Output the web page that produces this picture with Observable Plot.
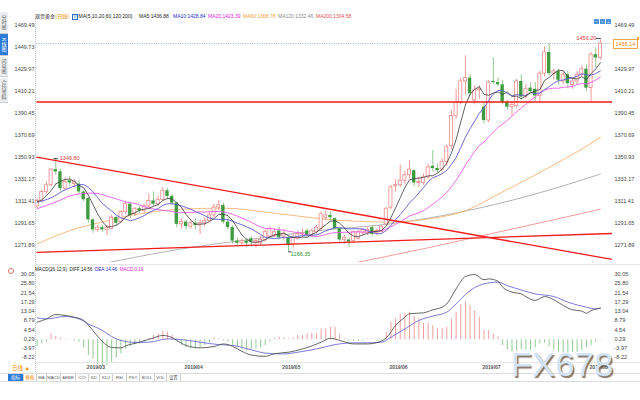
<!DOCTYPE html>
<html><head><meta charset="utf-8">
<script src="https://cdn.jsdelivr.net/npm/d3@7"></script>
<script src="https://cdn.jsdelivr.net/npm/@observablehq/plot@0.6"></script>
<style>
html,body{margin:0;padding:0;background:#fff;}
body{width:640px;height:400px;position:relative;overflow:hidden;font-family:"Liberation Sans","Noto Sans CJK SC",sans-serif;}
.a{position:absolute;white-space:nowrap;line-height:1;}
.t{font-size:5px;}
.tab{position:absolute;left:0;width:8px;writing-mode:vertical-rl;font-size:5px;display:flex;align-items:center;justify-content:center;background:#eceef1;color:#666;border-bottom:1px solid #ccc;box-sizing:border-box;font-family:"Noto Sans CJK SC",sans-serif;}
.bt{position:absolute;top:374px;height:7px;font-size:4.2px;line-height:7px;color:#555;text-align:center;white-space:nowrap;border-right:1px solid #d0d0d0;box-sizing:border-box;font-family:"Liberation Sans","Noto Sans CJK SC",sans-serif;}
.row{position:absolute;display:flex;gap:2.5px;white-space:nowrap;line-height:1;font-size:4.6px;}
</style></head><body>
<div id="main" class="a" style="left:0;top:0"></div>
<div id="macd" class="a" style="left:0;top:262px"></div>
<div id="ov"></div>
<script>
// ---------- data ----------
const open  = [1307,1312,1320,1326,1340,1338,1323,1330,1327,1327,1320,1314,1295,1286,1288,1286,1287,1297,1293,1302,1309,1300,1305,1303,1307,1312,1309,1313,1321,1316,1310,1291,1293,1289,1292,1290,1292,1294,1299,1306,1308,1293,1288,1276,1274,1276,1278,1274,1274,1277,1280,1281,1285,1280,1279,1273,1279,1282,1285,1281,1284,1287,1297,1299,1296,1287,1277,1277,1276,1278,1283,1283,1288,1283,1284,1291,1306,1325,1326,1330,1335,1339,1328,1328,1333,1343,1341,1340,1347,1361,1388,1400,1419,1422,1402,1411,1396,1384,1419,1418,1416,1400,1396,1397,1419,1405,1413,1412,1406,1426,1445,1426,1428,1419,1425,1416,1419,1425,1430,1413,1443,1440];
const high  = [1314,1322,1329,1341,1349.8,1340,1333,1334,1331,1330,1321,1315,1296,1290,1290,1290,1299,1298,1303,1311,1310,1306,1307,1309,1318,1320,1316,1324,1323,1318,1311,1296,1295,1294,1296,1295,1297,1302,1309,1312,1310,1296,1290,1279,1278,1278,1280,1278,1280,1286,1289,1287,1288,1286,1280,1282,1285,1287,1287,1287,1290,1302,1303,1302,1297,1288,1281,1279,1285,1286,1287,1288,1290,1287,1290,1306,1326,1331,1344,1338,1348,1340,1333,1336,1345,1357,1345,1350,1362,1393,1412,1422,1442,1425,1415,1415,1400,1420,1440,1422,1420,1402,1401,1421,1425,1416,1418,1418,1428,1450,1453,1430,1430,1428,1428,1422,1428,1433,1434,1445,1449,1456.2];
const low   = [1305,1310,1318,1325,1335,1320,1321,1325,1324,1318,1311,1292,1283,1284,1284,1281,1286,1289,1292,1300,1296,1298,1301,1301,1304,1307,1307,1312,1313,1308,1288,1287,1286,1287,1286,1282,1289,1293,1297,1303,1291,1286,1273,1272,1271,1270,1272,1270,1272,1275,1278,1279,1277,1276,1266.35,1270,1277,1279,1280,1279,1282,1285,1294,1294,1286,1275,1273,1270,1274,1277,1281,1281,1280,1281,1283,1289,1304,1320,1324,1327,1332,1325,1324,1326,1331,1338,1337,1338,1343,1358,1385,1398,1407,1405,1398,1403,1381,1382,1416,1414,1398,1393,1388,1395,1402,1403,1408,1401,1400,1423,1424,1420,1416,1416,1413,1412,1416,1423,1410,1400.5,1431,1438];
const close = [1312,1320,1326,1340,1338,1323,1329,1328,1329,1320,1313,1295,1286,1288,1286,1288,1297,1292,1302,1309,1299,1305,1303,1307,1312,1309,1313,1321,1316,1310,1291,1293,1289,1292,1290,1292,1294,1299,1306,1308,1293,1288,1276,1274,1276,1274,1275,1276,1277,1284,1287,1284,1279,1282,1272,1279,1282,1283,1281,1285,1288,1300,1299,1297,1287,1277,1279,1275,1284,1284,1286,1286,1282,1285,1289,1305,1324,1326,1330,1335,1340,1328,1329,1333,1342,1341,1339,1347,1360,1388,1400,1419,1422,1408,1411,1412,1384,1418,1418,1416,1400,1396,1398,1419,1405,1412,1410,1406,1426,1445,1426,1428,1420,1425,1417,1419,1425,1430,1413,1443,1440,1453];

const ma5LeadIdx  = [0,1,2,3,4];
const ma5LeadVal  = [1311.4,1313,1316.8,1321.3,1327.2];
const ma10LeadIdx = [0,3,6,9];
const ma10LeadVal = [1310.8,1314.7,1321.9,1326.5];
const ma20LeadIdx = [0,4,8,12,16,19];
const ma20LeadVal = [1305,1311,1317.5,1319,1315,1311.05];
const ma60Idx  = [0,9,14,20,31,40,51,61,75,90,100,110,116,121];
const ma60Val  = [1273.5,1288,1293,1299,1304.5,1305.5,1301,1296,1293,1300.5,1320,1342,1356,1368.78];
const ma120Idx = [12,18,31,44,62,75,91,106,121];
const ma120Val = [1254,1259,1269,1276.5,1286,1291,1302,1317,1336];
const ma200Idx = [64,84,99,112,121];
const ma200Val = [1253,1270,1284,1296,1304.58];

const trendX1 = [-0.14,-0.14,-0.14];
const trendY1 = [1351.2,1265.8,1400.6];
const trendX2 = [123.6,123.6,123.6];
const trendY2 = [1259.5,1282.8,1400.6];

const yTickVals = [1271.89,1291.65,1311.41,1331.17,1350.93,1370.69,1390.45,1410.21,1429.97,1449.73,1469.49];
const lastPriceLabel = "1455.14";
const extremeIdx  = [4,121,54];
const extremeVal  = [1349.8,1456.2,1266.35];
const extremeText = ["1349.80","1456.20","1266.35"];

const macdHist = [-3.1,-1.9,-1.1,2.8,1.5,0.8,0.3,-0.2,-0.5,-1.1,
 -3.7,-7.2,-8.8,-11.4,-12.3,-11.8,-10.3,-8.4,-6.5,-4.2,
 -3.1,-2.2,-1.9,-1.1,0.7,2.0,2.7,4.0,3.5,2.0,
 -0.8,-2.6,-3.7,-4.2,-4.2,-3.7,-2.6,-1.5,0.9,0.4,
 -0.6,-1.1,-2.6,-3.7,-4.6,-5.2,-4.6,-4.2,-3.7,-2.6,
 -1.1,0.7,1.2,0.9,0.4,0.9,2.0,2.0,2.7,3.0,
 3.0,5.0,5.0,5.8,5.8,2.4,0.4,-0.6,-0.8,-0.8,
 -0.6,0.4,0.4,-0.6,-0.3,3.5,8.1,9.6,11.9,12.2,
 12.7,10.7,9.6,7.6,7.6,6.6,5.0,5.0,5.8,9.6,
 12.7,16.2,17.7,15.8,13.5,10.4,4.3,4.3,2.7,1.2,
 -2.6,-4.6,-5.7,-5.2,-4.6,-4.6,-4.9,-3.7,-1.9,-1.5,
 -3.1,-4.6,-5.7,-6.1,-6.1,-5.7,-5.7,-4.9,-3.7,-2.6,
 -1.1,0.19];
const diffIdx = [0,2,4,6,8,10,11,13,15,16,18,19,22,25,27,29,30,32,35,38,40,42,44,46,49,51,54,57,60,61,63,65,68,71,73,75,77,79,80,83,85,87,88,90,92,94,96,97,99,100,102,104,105,107,109,111,113,115,117,118,119,121];
const diffVal = [8.1,9.6,11.6,11.2,10.4,8.9,6.8,1.6,-2.6,-3.5,-3.7,-2.8,-1.1,0.9,2.0,1.0,-0.3,-2.6,-3.7,-3.1,-1.9,-3.0,-5.3,-7.0,-7.6,-6.4,-5.7,-4.2,-2.0,-1.1,0.7,-0.3,-1.9,-1.9,-1.3,0.9,6.6,10.4,12.0,12.4,13.8,15.0,16.5,23.4,29.1,30.0,27.6,28.0,26.9,24.2,21.9,21.1,19.8,18.1,19.9,18.4,15.8,13.8,13.2,12.2,13.4,14.56];
const deaIdx = [0,2,6,9,11,14,16,18,21,24,28,31,35,39,42,46,49,53,56,60,64,68,71,74,76,79,82,85,88,90,92,94,96,99,101,104,107,111,114,118,120,121];
const deaVal = [10.1,9.6,10.7,9.6,7.3,4.3,1.5,-0.3,-1.2,-1.1,0.4,0.1,-1.1,-2.2,-2.6,-4.6,-6.1,-6.5,-5.7,-4.2,-2.2,-1.4,-1.4,-1.1,1.2,5.0,8.9,10.9,12.7,16.5,20.8,24.0,25.7,26.5,24.9,22.9,21.1,19.9,17.3,15.0,14.2,14.46];
const macdTickVals = [30.05,25.80,21.54,17.29,13.04,8.79,4.54,0.29,-3.97,-8.22];
const xTickIdx = [11,32,53,76,96,119];
const xTickLabels = ["2019/03","2019/04","2019/05","2019/06","2019/07","2019/08"];

// ---------- tables ----------
const candles = close.map((c,i)=>({i,open:open[i],high:high[i],low:low[i],close:c}));
const upC = candles.filter(d=>d.close>=d.open), dnC = candles.filter(d=>d.close<d.open);
const pts = (I,V)=>I.map((x,k)=>({i:x,v:V[k]}));
const trends = trendX1.map((x1,k)=>({x1,y1:trendY1[k],x2:trendX2[k],y2:trendY2[k]}));
const extremes = extremeIdx.map((x,k)=>({i:x,v:extremeVal[k],t:extremeText[k]}));
const hist = macdHist.map((v,i)=>({i,v}));
const lastClose = close[close.length-1];
const rightTickVals = yTickVals.filter(v=>Math.abs(v-lastClose)>6);

const UP="#ee8a8a", DN="#3f9b3f", DNW="#84c284";
const FONT='"Liberation Sans","Noto Sans CJK SC",sans-serif';
const XD=[-0.14,123.6];
const axisOpts={tickSize:0,tickPadding:2,tickFormat:d=>d.toFixed(2),fontSize:5.5,fill:"#444",label:null};

const main = Plot.plot({
  width:640,height:264,marginLeft:36,marginRight:28,marginTop:18,marginBottom:2,
  x:{domain:XD,axis:null},
  y:{domain:[1256.8,1475.4],axis:null},
  style:{fontFamily:FONT,fontSize:"5.5px",background:"transparent",overflow:"visible"},
  marks:[
    Plot.axisY(yTickVals,{...axisOpts,anchor:"left"}),
    Plot.axisY(rightTickVals,{...axisOpts,anchor:"right"}),
    Plot.ruleY([lastClose],{stroke:"#86aee6",strokeWidth:0.8,strokeDasharray:"1.2,1.2"}),
    Plot.line(pts(ma200Idx,ma200Val),{x:"i",y:"v",stroke:"#f09090",strokeWidth:0.9,curve:"monotone-x",clip:true}),
    Plot.line(pts(ma120Idx,ma120Val),{x:"i",y:"v",stroke:"#aaaaaa",strokeWidth:0.9,curve:"monotone-x",clip:true}),
    Plot.line(pts(ma60Idx,ma60Val),{x:"i",y:"v",stroke:"#f6b474",strokeWidth:0.9,curve:"monotone-x",clip:true}),
    Plot.ruleX(upC,{x:"i",y1:"low",y2:"high",stroke:UP,strokeWidth:0.9}),
    Plot.ruleX(dnC,{x:"i",y1:"low",y2:"high",stroke:DNW,strokeWidth:0.9}),
    Plot.rect(upC,{x1:d=>d.i-0.33,x2:d=>d.i+0.33,y1:"open",y2:"close",fill:"#fff",stroke:UP,strokeWidth:0.8}),
    Plot.rect(dnC,{x1:d=>d.i-0.36,x2:d=>d.i+0.36,y1:"open",y2:"close",fill:DN}),
    Plot.line(pts(ma20LeadIdx,ma20LeadVal),{x:"i",y:"v",stroke:"#ec5cec",strokeWidth:0.9,curve:"monotone-x"}),
    Plot.lineY(candles,Plot.windowY({k:20,anchor:"end",strict:true},{x:"i",y:"close",stroke:"#ec5cec",strokeWidth:0.9})),
    Plot.line(pts(ma10LeadIdx,ma10LeadVal),{x:"i",y:"v",stroke:"#5a5ad4",strokeWidth:0.9,curve:"monotone-x"}),
    Plot.lineY(candles,Plot.windowY({k:10,anchor:"end",strict:true},{x:"i",y:"close",stroke:"#5a5ad4",strokeWidth:0.9})),
    Plot.line(pts(ma5LeadIdx,ma5LeadVal),{x:"i",y:"v",stroke:"#3a3a3a",strokeWidth:0.8,curve:"monotone-x"}),
    Plot.lineY(candles,Plot.windowY({k:5,anchor:"end",strict:true},{x:"i",y:"close",stroke:"#3a3a3a",strokeWidth:0.8})),
    Plot.link(trends,{x1:"x1",y1:"y1",x2:"x2",y2:"y2",stroke:"#f21a1a",strokeWidth:1.3,clip:true}),
    Plot.ruleY([extremes[0]],{x1:d=>d.i-0.4,x2:d=>d.i+0.6,y:"v",stroke:"#222",strokeWidth:0.8}),
    Plot.ruleY([extremes[1]],{x1:d=>d.i-0.9,x2:d=>d.i+0.2,y:"v",stroke:"#222",strokeWidth:0.8,dy:-1.5}),
    Plot.ruleY([extremes[2]],{x1:d=>d.i,x2:d=>d.i+0.7,y:"v",stroke:"#222",strokeWidth:0.8}),
    Plot.text([extremes[0]],{x:"i",y:"v",text:"t",textAnchor:"start",dx:4,fill:"#e23b3b",fontSize:5.5}),
    Plot.text([extremes[1]],{x:"i",y:"v",text:"t",textAnchor:"end",dx:-4,dy:-2,fill:"#e23b3b",fontSize:5.5}),
    Plot.text([extremes[2]],{x:"i",y:"v",text:"t",textAnchor:"start",dx:2,dy:2.5,fill:"#2e9a2e",fontSize:5.5})
  ]
});
document.getElementById("main").appendChild(main);

const macd = Plot.plot({
  width:640,height:110,marginLeft:36,marginRight:28,marginTop:10,marginBottom:12,
  x:{domain:XD,axis:null},
  y:{domain:[-9.51,30.93],axis:null},
  style:{fontFamily:FONT,fontSize:"5.5px",background:"transparent",overflow:"visible"},
  marks:[
    Plot.axisY(macdTickVals,{...axisOpts,anchor:"left"}),
    Plot.axisY(macdTickVals,{...axisOpts,anchor:"right"}),
    Plot.ruleX(hist.filter(d=>d.v>=0),{x:"i",y1:0,y2:"v",stroke:"#f0a0a0",strokeWidth:1}),
    Plot.ruleX(hist.filter(d=>d.v<0),{x:"i",y1:0,y2:"v",stroke:"#92ca92",strokeWidth:1}),
    Plot.line(pts(deaIdx,deaVal),{x:"i",y:"v",stroke:"#6c6cd6",strokeWidth:0.9,curve:"monotone-x"}),
    Plot.line(pts(diffIdx,diffVal),{x:"i",y:"v",stroke:"#555",strokeWidth:0.9,curve:"monotone-x"}),
    Plot.axisX(xTickIdx,{anchor:"bottom",tickSize:0,tickPadding:5,textAnchor:"start",dx:-1.5,fontSize:5,fontWeight:"bold",fill:"#555",label:null,tickFormat:d=>xTickLabels[xTickIdx.indexOf(d)]})
  ]
});
document.getElementById("macd").appendChild(macd);

// ---------- overlay furniture ----------
const ov = document.getElementById("ov");
function add(html){ov.insertAdjacentHTML("beforeend",html);}
const yPx = main.scale("y").apply(lastClose);
// left sidebar tabs
add(`<div class="tab" style="top:12px;height:22px;">分时图</div>`);
add(`<div class="tab" style="top:34px;height:22px;background:#2b7bd6;color:#fff;">K线图</div>`);
add(`<div class="tab" style="top:57px;height:20px;">闪电图</div>`);
add(`<div class="tab" style="top:78px;height:25px;">合约资料</div>`);
// axis frame lines
add(`<div class="a" style="left:35px;top:18px;width:0;height:354px;border-left:1px dotted #c4c4c4"></div>`);
add(`<div class="a" style="left:35px;top:264px;width:605px;height:0;border-top:1px solid #e6e6e6"></div>`);
add(`<div class="a" style="left:35px;top:362px;width:605px;height:0;border-top:1px solid #e6e6e6"></div>`);
// header main
const hy=14;
add(`<span class="a t" style="left:35px;top:${hy}px;color:#222">现货黄金</span>`);
add(`<span class="a t" style="left:55.5px;top:${hy}px;color:#f08a00">(日线)</span>`);
add(`<span class="a" style="left:72px;top:${hy-0.5}px;width:4px;height:4.5px;border:0.8px solid #2b6fcf;font-size:3.5px;color:#2b6fcf;text-align:center;line-height:4.5px">日</span>`);
add(`<span class="a t" style="left:78.5px;top:${hy}px;color:#222">MA(5,10,20,60,120,200)</span>`);
add(`<span class="a t" style="left:139px;top:${hy}px;color:#222">MA5:1436.88</span>`);
add(`<span class="a t" style="left:173px;top:${hy}px;color:#2a2ac4">MA10:1428.84</span>`);
add(`<span class="a t" style="left:208px;top:${hy}px;color:#e024e0">MA20:1423.39</span>`);
add(`<span class="a t" style="left:243px;top:${hy}px;color:#f0a040">MA60:1368.78</span>`);
add(`<span class="a t" style="left:278px;top:${hy}px;color:#8c8c8c">MA120:1332.46</span>`);
add(`<span class="a t" style="left:316px;top:${hy}px;color:#e05050">MA200:1304.58</span>`);
// top-right buttons
["−","○","+"].forEach((s,k)=>add(`<span class="a" style="left:${594+k*6}px;top:19px;width:5px;height:5px;background:#4f93d8;color:#fff;font-size:4px;line-height:5px;text-align:center">${s}</span>`));
// last price box
add(`<span class="a" style="left:613px;top:${yPx-4.5}px;width:23px;height:8px;border:0.8px solid #f3a445;background:#fff;color:#f08a00;font-size:5.5px;line-height:8px;text-align:center">${lastPriceLabel}</span>`);
add(`<span class="a" style="left:637px;top:${yPx-6}px;width:2px;height:3px;background:#f3a445"></span>`);
// MACD header
add(`<span class="a" style="left:8px;top:267.5px;width:4px;height:4px;border-radius:50%;border:1px solid #e07070"></span>`);
add(`<div class="row" style="left:35px;top:268px;"><span style="color:#222">MACD(26,12,9)</span><span style="color:#222">DIFF:14.56</span><span style="color:#2a2ac4">DEA:14.46</span><span style="color:#e024e0">MACD:0.19</span></div>`);
// bottom bar
add(`<span class="a" style="left:12px;top:366px;font-size:5.5px;color:#f08a00">日线 ▲</span>`);
add(`<div class="a" style="left:0;top:373px;width:640px;height:0;border-top:1px solid #dcdcdc"></div>`);
add(`<div class="a" style="left:0;top:381px;width:640px;height:0;border-top:1px solid #dcdcdc"></div>`);
add(`<span class="bt" style="left:8px;width:16px;background:#2b7bd6;color:#fff;font-size:4.6px;">指标</span>`);
add(`<span class="bt" style="left:24px;width:13px;color:#f08a00;font-size:4.6px;">模板</span>`);
const tabs=["MA","MACD","ARBR","CCI","KD","KDJ","RSI","PSY","BOLL","VOL","设置"];
const tabEdge=[37,47,61,76,89,100,113,127,140,155,167,181];
tabs.forEach((s,k)=>add(`<span class="bt" style="left:${tabEdge[k]}px;width:${tabEdge[k+1]-tabEdge[k]}px;">${s}</span>`));
// watermark
add(`<span class="a" style="left:511px;top:347px;font-size:34px;line-height:34px;font-family:'Liberation Sans',Arial,sans-serif;color:#d3e4f6;text-shadow:1.5px 1.5px 1px rgba(90,72,55,0.75);letter-spacing:0.5px">FX678</span>`);
</script>
</body></html>
